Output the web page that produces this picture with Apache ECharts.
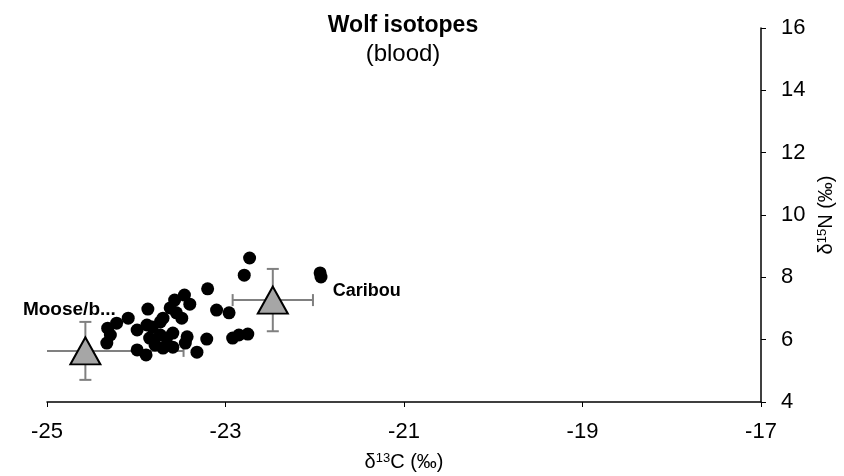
<!DOCTYPE html>
<html>
<head>
<meta charset="utf-8">
<script src="https://cdn.jsdelivr.net/npm/echarts@6/dist/echarts.min.js"></script>
<style>html,body{margin:0;padding:0;background:#fff}#c{width:844px;height:476px}</style>
</head>
<body>
<div id="c"></div>
<script>
const wolfC = [-22.73,-22.79,-21.94,-21.93,-23.20,-23.10,-22.96,-22.92,-22.85,-22.75,-23.21,-23.32,-23.43,-23.46,-23.40,-23.57,-23.62,-23.49,-23.70,-23.87,-24.09,-24.22,-24.32,-24.29,-24.33,-23.99,-23.82,-23.73,-23.59,-23.99,-23.89,-23.79,-23.70,-23.59,-23.45,-23.66,-23.88,-23.55,-23.85,-23.73];
const wolfN = [8.62,8.07,8.14,8.01,7.63,6.95,6.86,6.05,6.15,6.18,6.02,5.60,6.09,7.43,7.14,7.27,7.02,6.69,6.69,6.98,6.69,6.53,6.37,6.15,5.89,6.31,6.41,6.15,6.21,5.67,5.51,5.83,5.73,5.76,5.89,6.05,6.47,6.86,6.05,6.57];
const preyNames = ['Moose/b...', 'Caribou'];
const preyC = [-24.57, -22.47];
const preyN = [5.64, 7.27];
const preyCErr = [1.1, 0.45];
const preyNErr = [0.93, 1.0];
const xTicks = [-25, -23, -21, -19, -17];
const yTicks = [4, 6, 8, 10, 12, 14, 16];

const wolfData = wolfC.map((c, i) => [c, wolfN[i]]);
const preyData = preyC.map((c, i) => ({ value: [c, preyN[i], preyCErr[i], preyNErr[i]], name: preyNames[i] }));
const labelOffsets = [[-16, -41], [94, -9]];
const labelSizes = [19, 18];

const chart = echarts.init(document.getElementById('c'));
const FONT = 'Liberation Sans, Arial, sans-serif';
chart.setOption({
  animation: false,
  backgroundColor: '#fff',
  title: {
    text: 'Wolf isotopes',
    subtext: '(blood)',
    left: 398, top: 9, textAlign: 'center',
    textStyle: { fontFamily: FONT, fontSize: 23, fontWeight: 'bold', color: '#000' },
    subtextStyle: { fontFamily: FONT, fontSize: 24, color: '#000' },
    itemGap: 5
  },
  grid: { left: 47, right: 83, top: 28, bottom: 74, outerBoundsMode: 'none', containLabel: false },
  xAxis: {
    type: 'value', min: xTicks[0], max: xTicks[xTicks.length - 1],
    axisLine: { lineStyle: { color: '#000', width: 1.5 } },
    axisTick: { show: true, length: 5, lineStyle: { color: '#000' }, customValues: xTicks },
    axisLabel: { customValues: xTicks, color: '#000', fontFamily: FONT, fontSize: 22, margin: 19 },
    splitLine: { show: false },
    name: '{t|δ}{s|13}{t|C (‰)}',
    nameLocation: 'middle', nameGap: 50,
    nameTextStyle: { rich: { t: { fontFamily: FONT, fontSize: 20, color: '#000' }, s: { fontFamily: FONT, fontSize: 13, color: '#000', verticalAlign: 'top', padding: [0,0,8,0] } } }
  },
  yAxis: {
    type: 'value', position: 'right', min: yTicks[0], max: yTicks[yTicks.length - 1], interval: 2,
    axisLine: { show: true, lineStyle: { color: '#000', width: 1.5 } },
    axisTick: { show: true, length: 5, lineStyle: { color: '#000' } },
    axisLabel: { color: '#000', fontFamily: FONT, fontSize: 22, margin: 20 },
    splitLine: { show: false },
    name: '{t|δ}{s|15}{t|N (‰)}',
    nameLocation: 'middle', nameGap: 51, nameRotate: 90,
    nameTextStyle: { rich: { t: { fontFamily: FONT, fontSize: 20, color: '#000' }, s: { fontFamily: FONT, fontSize: 13, color: '#000', verticalAlign: 'top', padding: [0,0,8,0] } } }
  },
  series: [
    {
      type: 'custom', z: 1, clip: true,
      data: preyData.map(d => d.value),
      renderItem: function (params, api) {
        const x = api.value(0), y = api.value(1), ex = api.value(2), ey = api.value(3);
        const l = api.coord([x - ex, y]), r = api.coord([x + ex, y]);
        const t = api.coord([x, y + ey]), b = api.coord([x, y - ey]);
        const cap = 6;
        const st = { stroke: '#808080', lineWidth: 2 };
        return { type: 'group', children: [
          { type: 'line', shape: { x1: l[0], y1: l[1], x2: r[0], y2: r[1] }, style: st },
          { type: 'line', shape: { x1: l[0], y1: l[1] - cap, x2: l[0], y2: l[1] + cap }, style: st },
          { type: 'line', shape: { x1: r[0], y1: r[1] - cap, x2: r[0], y2: r[1] + cap }, style: st },
          { type: 'line', shape: { x1: t[0], y1: t[1], x2: b[0], y2: b[1] }, style: st },
          { type: 'line', shape: { x1: t[0] - cap, y1: t[1], x2: t[0] + cap, y2: t[1] }, style: st },
          { type: 'line', shape: { x1: b[0] - cap, y1: b[1], x2: b[0] + cap, y2: b[1] }, style: st }
        ]};
      }
    },
    {
      type: 'scatter', z: 2, data: wolfData, symbol: 'circle', symbolSize: 13,
      itemStyle: { color: '#000', opacity: 1 }
    },
    {
      type: 'scatter', z: 3,
      data: preyData.map((d, i) => ({ value: [d.value[0], d.value[1]], name: d.name,
        label: { show: true, position: 'inside', offset: labelOffsets[i], formatter: '{b}',
          fontFamily: FONT, fontSize: labelSizes[i], fontWeight: 'bold', color: '#000', opacity: 1 } })),
      symbol: 'triangle', symbolSize: [30, 27],
      itemStyle: { color: '#a6a6a6', borderColor: '#000', borderWidth: 2, opacity: 1 }
    }
  ]
});
</script>
</body>
</html>
